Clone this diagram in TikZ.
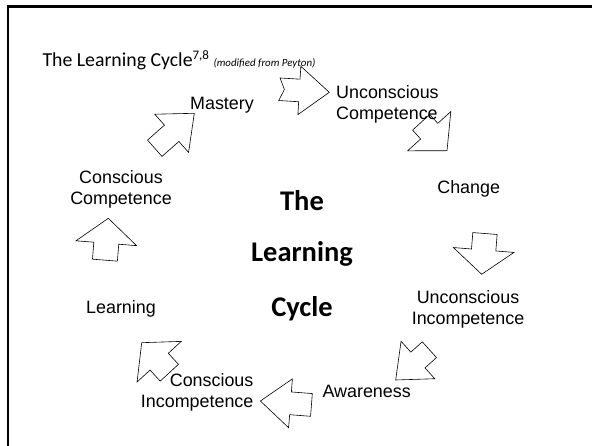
\documentclass[tikz,border=0pt]{standalone}
\usepackage{fontspec}
\setmainfont{Liberation Sans}
\newfontfamily\calib{Carlito}
\newcommand\blockarr[8]{%
  \draw[arrowshape, shift={(#1,#2)}, rotate=#3]
    (0pt,0pt) -- (-#4pt,#5pt) -- (-#4pt,#6pt) -- ({-#4pt-#7pt},#6pt)
    -- ({-#4pt-#7pt+#8pt},0pt) -- ({-#4pt-#7pt},-#6pt) -- (-#4pt,-#6pt)
    -- (-#4pt,-#5pt) -- cycle;}
\begin{document}
\begin{tikzpicture}[x=1pt,y=-1pt,
  lbl/.style={font=\fontsize{17.9}{20.8}\selectfont, inner sep=0pt},
  big/.style={font=\calib\bfseries\fontsize{28.5}{34}\selectfont, inner sep=0pt},
  arrowshape/.style={draw=black, line width=0.6pt, line join=miter}]
\useasboundingbox (0,0) rectangle (592,446);
\fill[white] (0,0) rectangle (592,446);
\draw[line width=2.5pt] (8,446) -- (8,6.3) -- (592,6.3);

\node[anchor=base west, inner sep=0pt, font=\calib\fontsize{19.8}{24}\selectfont] (title) at (42.3,67)
  {The Learning Cycle\raisebox{7.5pt}{\fontsize{13}{13}\selectfont 7,8} {\itshape\fontsize{10.9}{12}\selectfont (modified from Peyton)}};

\node[lbl] (mastery) at (222,105.5) {Mastery};
\node[lbl, anchor=west, align=left] (uc) at (336,104.5) {Unconscious\\Competence};
\node[lbl] (change) at (468.7,189) {Change};
\node[lbl, align=center] (ui) at (468,309) {Unconscious\\Incompetence};
\node[lbl] (aware) at (366.7,391) {Awareness};
\node[lbl, anchor=east, align=right] (ci) at (253.6,392) {Conscious\\Incompetence};
\node[lbl] (learn) at (121,309) {Learning};
\node[lbl, align=center] (cc) at (121,189) {Conscious\\Competence};

\node[big] (t1) at (302,201) {The};
\node[big] (t2) at (302,254) {Learning};
\node[big] (t3) at (302,309) {Cycle};

\blockarr{194.3}{113.3}{41.5}{30.2}{25.5}{10.9}{22.6}{0}
\blockarr{329.3}{92.3}{-3.5}{30}{24.2}{11.3}{20}{5}
\blockarr{447}{150.7}{-47.7}{26.4}{29.2}{11.6}{12}{0}
\blockarr{481.7}{274.3}{-94.6}{24.4}{30.4}{12.2}{16.5}{0}
\blockarr{395.7}{380}{-138}{29.9}{25.2}{10.6}{15.4}{0}
\blockarr{260.4}{401}{175.6}{30.2}{24.5}{11.4}{21}{0}
\blockarr{141.7}{342.7}{132.6}{25.8}{30}{12.4}{15}{0}
\blockarr{108.3}{218.3}{85.4}{25}{30.4}{12.5}{17}{0}
\end{tikzpicture}
\end{document}
